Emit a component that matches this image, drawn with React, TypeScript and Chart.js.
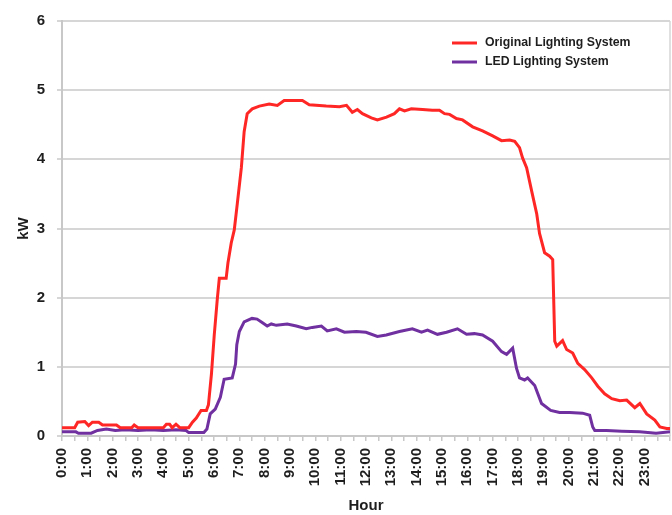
import React, { useEffect, useRef } from "react";
import { Chart, registerables } from "chart.js";

Chart.register(...registerables);

const seriesNames = ["Original Lighting System", "LED Lighting System"];
const seriesColors = ["#ff2626", "#7030a0"];

const origHours = [
  0, 0.5, 0.62, 0.9, 1.05, 1.2, 1.45, 1.6, 2.15, 2.3, 2.75, 2.85, 3.0, 4.0, 4.12, 4.25, 4.35, 4.5, 4.65, 5.0,
  5.15, 5.3, 5.49, 5.7, 5.78, 5.9, 6.01, 6.13, 6.21, 6.48, 6.55, 6.68, 6.8, 6.92, 7.08, 7.19, 7.31, 7.51, 7.79,
  8.18, 8.5, 8.77, 9.49, 9.76, 10.43, 10.95, 11.23, 11.46, 11.66, 11.86, 12.21, 12.45, 12.81, 13.12, 13.32,
  13.52, 13.79, 14.23, 14.62, 14.9, 15.1, 15.3, 15.57, 15.81, 16.21, 16.6, 17.0, 17.35, 17.67, 17.87, 18.06,
  18.18, 18.34, 18.54, 18.74, 18.85, 19.05, 19.25, 19.37, 19.45, 19.53, 19.76, 19.92, 20.16, 20.36, 20.63,
  20.91, 21.15, 21.42, 21.7, 22.02, 22.29, 22.61, 22.81, 23.08, 23.4, 23.6, 23.87, 24,
];
const origKW = [
  0.12, 0.12, 0.2, 0.21, 0.15, 0.2, 0.2, 0.16, 0.16, 0.12, 0.12, 0.16, 0.12, 0.12, 0.17, 0.17, 0.12, 0.17, 0.12, 0.12,
  0.2, 0.26, 0.37, 0.37, 0.45, 0.9, 1.46, 1.98, 2.28, 2.28, 2.5, 2.79, 2.98, 3.36, 3.88, 4.4, 4.66, 4.73, 4.77,
  4.8, 4.78, 4.85, 4.85, 4.79, 4.77, 4.76, 4.78, 4.68, 4.72, 4.66, 4.6, 4.57, 4.61, 4.66, 4.73,
  4.7, 4.73, 4.72, 4.71, 4.71, 4.66, 4.65, 4.59, 4.57, 4.47, 4.41, 4.34, 4.27, 4.28, 4.26, 4.17,
  4.02, 3.88, 3.54, 3.21, 2.93, 2.65, 2.6, 2.55, 1.37, 1.3, 1.38, 1.25, 1.2, 1.05, 0.96,
  0.84, 0.72, 0.61, 0.54, 0.51, 0.52, 0.41, 0.47, 0.32, 0.23, 0.13, 0.11, 0.11,
];

const ledHours = [
  0, 0.55, 0.65, 1.15, 1.4, 1.75, 2.1, 2.5, 3.0, 3.5, 4.0, 4.5, 4.9, 5.0, 5.6, 5.72, 5.85, 6.05, 6.25, 6.4,
  6.72, 6.85, 6.9, 7.0, 7.19, 7.5, 7.7, 7.9, 8.1, 8.26, 8.46, 8.89, 9.25, 9.64, 9.88, 10.24, 10.47, 10.83,
  11.15, 11.62, 12.0, 12.45, 12.8, 13.32, 13.83, 14.19, 14.43, 14.82, 15.18, 15.61, 15.97, 16.28, 16.6, 17.0,
  17.35, 17.55, 17.79, 17.94, 18.06, 18.26, 18.38, 18.66, 18.93, 19.29, 19.64, 20.04, 20.55, 20.83, 20.95,
  21.03, 21.5, 22.1, 22.8, 23.45, 24,
];
const ledKW = [
  0.06, 0.06, 0.04, 0.04, 0.08, 0.1, 0.08, 0.09, 0.08, 0.09, 0.08, 0.09, 0.08, 0.05, 0.05, 0.1, 0.32, 0.39, 0.56, 0.82,
  0.84, 1.04, 1.32, 1.51, 1.65, 1.7, 1.69, 1.64, 1.59, 1.62, 1.6, 1.62, 1.59, 1.55, 1.57, 1.59, 1.52, 1.55,
  1.5, 1.51, 1.5, 1.44, 1.46, 1.51, 1.55, 1.5, 1.53, 1.47, 1.5, 1.55, 1.47, 1.48, 1.46, 1.37,
  1.22, 1.18, 1.27, 0.98, 0.84, 0.81, 0.84, 0.73, 0.47, 0.37, 0.34, 0.34, 0.33, 0.3, 0.13,
  0.08, 0.08, 0.07, 0.06, 0.04, 0.06,
];

const yTicks = [0, 1, 2, 3, 4, 5, 6];
const xTitle = "Hour";
const yTitle = "kW";

const FONT = "'Liberation Sans', Arial, sans-serif";
const TEXT = "#1e1e1e";
const GRID = "#d6d6d6";

const legendPlugin = {
  id: "innerLegend",
  afterDraw(chart: any) {
    const ctx = chart.ctx;
    ctx.save();
    ctx.font = `bold 12.3px ${FONT}`;
    ctx.textBaseline = "middle";
    ctx.textAlign = "left";
    chart.data.datasets.forEach((ds: any, i: number) => {
      const y = 43 + i * 19;
      ctx.strokeStyle = ds.borderColor;
      ctx.lineWidth = 3;
      ctx.beginPath();
      ctx.moveTo(452, y);
      ctx.lineTo(477, y);
      ctx.stroke();
      ctx.fillStyle = TEXT;
      ctx.fillText(ds.label, 485, y);
    });
    ctx.restore();
  },
};

const framePlugin = {
  id: "rightFrame",
  beforeDatasetsDraw(chart: any) {
    const { ctx, chartArea } = chart;
    ctx.save();
    ctx.strokeStyle = GRID;
    ctx.lineWidth = 1.5;
    ctx.beginPath();
    ctx.moveTo(chartArea.right, chartArea.top);
    ctx.lineTo(chartArea.right, chartArea.bottom);
    ctx.stroke();
    ctx.restore();
  },
};

export default function App() {
  const ref = useRef<HTMLCanvasElement | null>(null);
  useEffect(() => {
    if (!ref.current) return;
    Chart.defaults.font.family = FONT;
    const chart = new Chart(ref.current, {
      type: "line",
      data: {
        datasets: [
          {
            label: seriesNames[0],
            data: origHours.map((h, i) => ({ x: h, y: origKW[i] })),
            borderColor: seriesColors[0],
            backgroundColor: seriesColors[0],
            borderWidth: 3,
            pointRadius: 0,
            tension: 0,
          },
          {
            label: seriesNames[1],
            data: ledHours.map((h, i) => ({ x: h, y: ledKW[i] })),
            borderColor: seriesColors[1],
            backgroundColor: seriesColors[1],
            borderWidth: 3,
            pointRadius: 0,
            tension: 0,
          },
        ],
      },
      options: {
        animation: false,
        responsive: false,
        layout: { padding: { top: 14, right: 2, left: 0, bottom: 0 } },
        plugins: { legend: { display: false }, tooltip: { enabled: false } },
        scales: {
          x: {
            type: "linear",
            min: 0,
            max: 24,
            afterBuildTicks: (scale: any) => {
              const t: any[] = [];
              for (let i = 0; i <= 48; i++) t.push({ value: i / 2 });
              scale.ticks = t;
            },
            afterFit: (scale: any) => {
              scale.height = 79;
              scale.paddingLeft = 0;
              scale.paddingRight = 0;
            },
            ticks: {
              autoSkip: false,
              maxRotation: 90,
              minRotation: 90,
              padding: 7,
              color: TEXT,
              font: { size: 15, weight: "bold" },
              callback: (v: any) => {
                const n = Number(v);
                return Number.isInteger(n) && n < 24 ? `${n}:00` : "";
              },
            },
            grid: { drawOnChartArea: false, drawTicks: true, tickLength: 5, color: "#c8c8c8", lineWidth: 1.5 },
            border: { display: true, color: "#c8c8c8", width: 2 },
            title: {
              display: true,
              text: xTitle,
              color: TEXT,
              font: { size: 15, weight: "bold" },
              padding: { top: 0, bottom: 0 },
            },
          },
          y: {
            min: 0,
            max: 6,
            afterBuildTicks: (scale: any) => {
              scale.ticks = yTicks.map((v) => ({ value: v }));
            },
            afterFit: (scale: any) => {
              scale.width = 62;
            },
            ticks: {
              padding: 12,
              color: TEXT,
              font: { size: 15, weight: "bold" },
            },
            grid: { color: GRID, lineWidth: 2, tickLength: 5, drawTicks: true },
            border: { display: true, color: "#c8c8c8", width: 2 },
            title: {
              display: true,
              text: yTitle,
              color: TEXT,
              font: { size: 15, weight: "bold" },
              padding: { top: 15, bottom: 0 },
            },
          },
        },
      },
      plugins: [legendPlugin, framePlugin],
    } as any);
    return () => chart.destroy();
  }, []);
  return (
    <div style={{ position: "absolute", left: 0, top: 0, width: 672, height: 515, background: "#fff" }}>
      <canvas ref={ref} width={672} height={515} style={{ display: "block" }} />
    </div>
  );
}
